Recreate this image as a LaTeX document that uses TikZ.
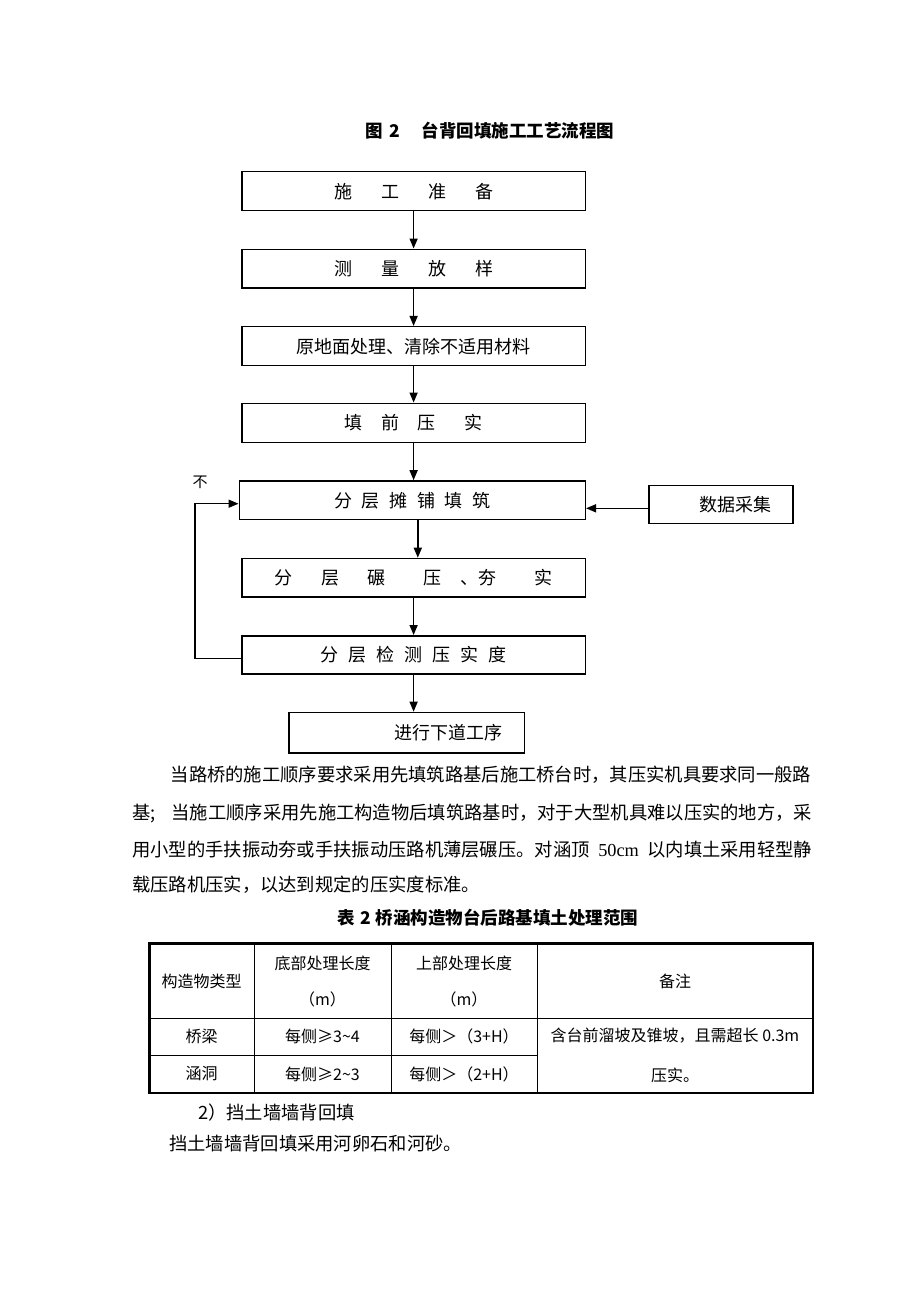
\documentclass[tikz,border=0pt]{standalone}
\usepackage{fontspec}
\setmainfont{Noto Sans CJK SC}
\newfontfamily\lat{Liberation Serif}
\usetikzlibrary{arrows.meta}
\XeTeXlinebreaklocale "zh"
\XeTeXlinebreakskip=0pt plus 3pt minus 0.5pt
\begin{document}
\begin{tikzpicture}[x=1pt,y=-1pt,
  box/.style={draw=black,line width=1.5pt,inner sep=0pt,font=\fontsize{18}{20}\selectfont},
  arrow/.style={line width=1.5pt,-{Triangle[length=10pt,width=8pt]}},
  captxt/.style={font=\bfseries\fontsize{17.5}{20}\selectfont},
  para/.style={anchor=west,inner sep=0pt,font=\fontsize{18.3}{20}\selectfont},
  cell/.style={inner sep=0pt,font=\fontsize{16}{18}\selectfont}]
\useasboundingbox (0,0) rectangle (920,1302);
\fill[white] (0,0) rectangle (920,1302);

% title
\node[captxt] (title) at (490,130.7) {图\hspace{6pt}2\hspace{21.6pt}台背回填施工工艺流程图};

% flow boxes
\node[box,minimum width=343.3pt,minimum height=39pt] (b1) at (413.6,191.2)
  {施\hspace{29pt}工\hspace{29pt}准\hspace{29pt}备};
\node[box,minimum width=343.3pt,minimum height=38.7pt] (b2) at (413.6,268.6)
  {测\hspace{29pt}量\hspace{29pt}放\hspace{29pt}样};
\node[box,minimum width=343.3pt,minimum height=39pt] (b3) at (413.6,346.2)
  {原地面处理、清除不适用材料};
\node[box,minimum width=343.3pt,minimum height=39pt] (b4) at (413.6,422.8)
  {填\hspace{19pt}前\hspace{18pt}压\hspace{29pt}实};
\node[box,minimum width=346pt,minimum height=38.5pt] (b5) at (412.3,500.2)
  {分\hspace{9.6pt}层\hspace{9.6pt}摊\hspace{9.6pt}铺\hspace{9.6pt}填\hspace{9.6pt}筑};
\node[box,minimum width=343.3pt,minimum height=38.5pt] (b6) at (413.6,577.7)
  {分\hspace{28.4pt}层\hspace{28.4pt}碾\hspace{37.6pt}压\hspace{19.5pt}、夯\hspace{37.5pt}实};
\node[box,minimum width=343.3pt,minimum height=38.3pt] (b7) at (413.6,654.9)
  {分\hspace{10pt}层\hspace{10pt}检\hspace{10pt}测\hspace{10pt}压\hspace{10pt}实\hspace{10pt}度};
\node[box,minimum width=235.3pt,minimum height=40.5pt] (b8) at (406.7,732.7)
  {\hspace{84.4pt}进行下道工序};
\node[box,minimum width=143.7pt,minimum height=38.4pt] (data) at (720.9,504.5)
  {\hspace{29pt}数据采集};
\node[font=\fontsize{15}{17}\selectfont,inner sep=0pt] (bu) at (200,482) {不};

% connectors
\draw[arrow] (b1.south) -- (b2.north);
\draw[arrow] (b2.south) -- (b3.north);
\draw[arrow] (b3.south) -- (b4.north);
\draw[arrow] (b4.south) -- (b4.south |- b5.north);
\draw[arrow] ([xshift=5.5pt]b5.south) -- ([xshift=5.5pt]b5.south |- b6.north);
\draw[arrow] (b6.south) -- (b6.south |- b7.north);
\draw[arrow] (b7.south) -- (b7.south |- b8.north);
\coordinate (d1) at ([yshift=-3.8pt]data.west);
\draw[arrow] (d1) -- (d1 -| b5.east);
\coordinate (lx) at (195,0);
\coordinate (l1) at ([yshift=-3.8pt]b7.west);
\coordinate (l2) at ([yshift=-3.5pt]b5.west);
\draw[arrow] (l1) -- (l1 -| lx) -- (l2 -| lx) -- (l2);

% paragraph
\node[para] (p1) at (170.5,774.3) {\makebox[641.5pt][s]{当路桥的施工顺序要求采用先填筑路基后施工桥台时，其压实机具要求同一般路}};
\node[para] (p2) at (132,813.3) {\makebox[680pt][s]{基; 当施工顺序采用先施工构造物后填筑路基时，对于大型机具难以压实的地方，采}};
\node[para] (p3) at (132,850) {\makebox[680pt][s]{用小型的手扶振动夯或手扶振动压路机薄层碾压。对涵顶 {\lat 50cm} 以内填土采用轻型静}};
\node[para] (p4) at (132,885) {载压路机压实，以达到规定的压实度标准。};

% table caption
\node[captxt] (tcap) at (488,918) {表\hspace{5pt}2\hspace{5pt}桥涵构造物台后路基填土处理范围};

% table grid
\draw[line width=1pt] (254,943.5) -- (254,1093)
  (391,943.5) -- (391,1093)
  (537,943.5) -- (537,1093)
  (149.5,1018.3) -- (813,1018.3)
  (149.5,1055.3) -- (537,1055.3);
\draw[line width=2.2pt] (149.5,943.5) rectangle (813,1093);

% table text
\node[cell] (h1) at (201.5,981) {构造物类型};
\node[cell] (h2a) at (322.5,963) {底部处理长度};
\node[cell] (h2b) at (322.5,999) {（m）};
\node[cell] (h3a) at (464,963) {上部处理长度};
\node[cell] (h3b) at (464,999) {（m）};
\node[cell] (h4) at (675,981) {备注};
\node[cell] (r1a) at (201.5,1036.5) {桥梁};
\node[cell] (r1b) at (322.5,1036.5) {每侧≥3\textasciitilde4};
\node[cell] (r1c) at (464,1036.5) {每侧＞（3+H）};
\node[cell] (r2a) at (201.5,1074) {涵洞};
\node[cell] (r2b) at (322.5,1074) {每侧≥2\textasciitilde3};
\node[cell] (r2c) at (464,1074) {每侧＞（2+H）};
\node[cell] (rm1) at (675,1036) {含台前溜坡及锥坡，且需超长 0.3m};
\node[cell] (rm2) at (675,1075) {压实。};

% after table
\node[para] (s1) at (198,1112.5) {2）挡土墙墙背回填};
\node[para] (s2) at (169,1144) {挡土墙墙背回填采用河卵石和河砂。};
\end{tikzpicture}
\end{document}
